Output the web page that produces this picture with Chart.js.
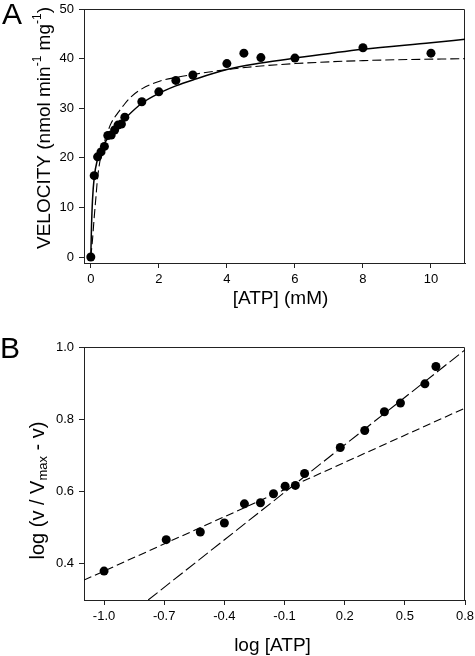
<!DOCTYPE html>
<html>
<head>
<meta charset="utf-8">
<script src="https://cdn.jsdelivr.net/npm/chart.js@4.4.1/dist/chart.umd.min.js"></script>
<style>
  body { margin: 0; background: #fff; }
  canvas { position: absolute; left: 0; }
  #chartA { top: 0; }
  #chartB { top: 330px; }
</style>
</head>
<body>
<canvas id="chartA" width="475" height="315"></canvas>
<canvas id="chartB" width="475" height="326"></canvas>
<script>
// Panel A: velocity vs [ATP]
const atp = [0, 0.1, 0.2, 0.3, 0.4, 0.5, 0.6, 0.7, 0.8, 0.9, 1.0, 1.5, 2, 2.5, 3, 4, 4.5, 5, 6, 8, 10];
const velocity = [0, 16.4, 20.2, 21.2, 22.3, 24.5, 24.6, 25.6, 26.6, 26.8, 28.2, 31.3, 33.3, 35.6, 36.7, 39.0, 41.1, 40.2, 40.1, 42.2, 41.1];

const solidFitX = [0, 0.02, 0.05, 0.1, 0.2, 0.3, 0.4, 0.5, 0.7, 1.0, 1.5, 2, 2.5, 3, 4, 5, 6, 8, 10, 11];
const solidFitY = [0, 6, 11.5, 16, 19.8, 21.6, 22.9, 24.0, 25.8, 27.9, 31.0, 33.0, 34.5, 35.7, 37.8, 39.1, 40.1, 41.9, 43.2, 43.9];

const dashFitX = [0, 0.05, 0.1, 0.15, 0.2, 0.3, 0.4, 0.5, 0.6, 0.8, 1.0, 1.2, 1.5, 2, 2.5, 3, 4, 5, 6, 8, 11];
const dashFitY = [0, 3.5, 8, 12, 16, 20.5, 23.2, 25.3, 27, 29.1, 30.9, 32.4, 33.9, 35.4, 36.2, 36.8, 37.8, 38.5, 39.0, 39.6, 40.0];

const xTicksA = [0, 2, 4, 6, 8, 10];
const yTicksA = [0, 10, 20, 30, 40, 50];

// Panel B: Hill plot
const logAtp = [-1.0, -0.69, -0.52, -0.40, -0.30, -0.22, -0.155, -0.097, -0.046, 0.0, 0.178, 0.30, 0.398, 0.478, 0.60, 0.655];
const logRatio = [0.380, 0.467, 0.488, 0.513, 0.566, 0.569, 0.594, 0.615, 0.617, 0.650, 0.722, 0.769, 0.821, 0.845, 0.898, 0.946];

const lowLineX = [-1.1, 0.8];
const lowLineY = [0.355, 0.831];
const highLineX = [-0.78, 0.8];
const highLineY = [0.30, 0.992];

const xTicksB = [-1.0, -0.7, -0.4, -0.1, 0.2, 0.5, 0.8];
const yTicksB = [0.4, 0.6, 0.8, 1.0];

const FONT = '"Liberation Sans", Arial, sans-serif';

function pts(xs, ys) {
  return xs.map((x, i) => ({ x: x, y: ys[i] }));
}

function axis(min, max, ticks, fmt, isY, bottomHeight) {
  return {
    type: 'linear',
    min: min,
    max: max,
    afterBuildTicks: s => { s.ticks = ticks.map(v => ({ value: v })); },
    afterFit: s => {
      if (isY) {
        s.width = 84;
        s.paddingTop = 0;
        s.paddingBottom = 0;
      } else {
        s.height = bottomHeight;
        s.paddingLeft = 0;
        s.paddingRight = 0;
      }
    },
    grid: { drawOnChartArea: false, drawTicks: true, tickLength: 5, color: '#222' },
    border: { display: true, color: '#222', width: 1 },
    ticks: {
      color: '#000',
      font: { family: FONT, size: 13 },
      padding: isY ? 5 : 4,
      autoSkip: false,
      maxRotation: 0,
      callback: fmt,
    },
  };
}

// top and right sides of the box
const frame = {
  id: 'frame',
  beforeDatasetsDraw(chart) {
    const { ctx, chartArea: a } = chart;
    ctx.save();
    ctx.strokeStyle = '#222';
    ctx.lineWidth = 1;
    ctx.beginPath();
    ctx.moveTo(Math.round(a.left), Math.round(a.top) + 0.5);
    ctx.lineTo(Math.round(a.right) - 0.5, Math.round(a.top) + 0.5);
    ctx.lineTo(Math.round(a.right) - 0.5, Math.round(a.bottom));
    ctx.stroke();
    ctx.restore();
  },
};

function drawRich(ctx, parts, cx, cy, size, rotate) {
  ctx.save();
  ctx.translate(cx, cy);
  if (rotate) ctx.rotate(-Math.PI / 2);
  ctx.fillStyle = '#000';
  ctx.textBaseline = 'middle';
  const fontFor = p => (p.sup || p.sub ? Math.round(size * 0.65) : size) + 'px ' + FONT;
  const widths = parts.map(p => { ctx.font = fontFor(p); return ctx.measureText(p.t).width; });
  let x = -widths.reduce((s, w) => s + w, 0) / 2;
  parts.forEach((p, i) => {
    ctx.font = fontFor(p);
    const dy = p.sup ? -size * 0.38 : p.sub ? size * 0.28 : 0;
    ctx.fillText(p.t, x, dy);
    x += widths[i];
  });
  ctx.restore();
}

function labels(items) {
  return {
    id: 'labels',
    afterDraw(chart) {
      const a = chart.chartArea;
      items.forEach(it => drawRich(chart.ctx, it.parts, it.x(a), it.y(a), it.size, it.rotate));
    },
  };
}

const dots = {
  showLine: false,
  pointRadius: 4.5,
  pointBackgroundColor: '#000',
  pointBorderWidth: 0,
  order: 0,
};

new Chart(document.getElementById('chartA'), {
  type: 'scatter',
  data: {
    datasets: [
      Object.assign({ data: pts(atp, velocity) }, dots),
      {
        data: pts(solidFitX, solidFitY),
        showLine: true,
        pointRadius: 0,
        borderColor: '#000',
        borderWidth: 1.5,
        cubicInterpolationMode: 'monotone',
        order: 1,
      },
      {
        data: pts(dashFitX, dashFitY),
        showLine: true,
        pointRadius: 0,
        borderColor: '#000',
        borderWidth: 1.1,
        borderDash: [9, 4],
        cubicInterpolationMode: 'monotone',
        order: 2,
      },
    ],
  },
  options: {
    responsive: false,
    animation: false,
    layout: { padding: { top: 9, right: 10, left: 0, bottom: 0 } },
    plugins: { legend: { display: false }, tooltip: { enabled: false } },
    scales: {
      x: axis(-0.2, 11, xTicksA, v => String(v), false, 52),
      y: axis(-1.2, 50, yTicksA, v => String(v), true),
    },
  },
  plugins: [frame, labels([
    { parts: [{ t: 'A' }], x: a => 12, y: a => 16, size: 30 },
    { parts: [{ t: '[ATP] (mM)' }], x: a => (a.left + a.right) / 2 + 6, y: a => a.bottom + 36, size: 19 },
    {
      parts: [{ t: 'VELOCITY (nmol min' }, { t: '-1', sup: true }, { t: ' mg' }, { t: '-1', sup: true }, { t: ')' }],
      x: a => a.left - 39, y: a => a.top + 119, size: 19, rotate: true,
    },
  ])],
});

new Chart(document.getElementById('chartB'), {
  type: 'scatter',
  data: {
    datasets: [
      Object.assign({ data: pts(logAtp, logRatio) }, dots),
      {
        data: pts(lowLineX, lowLineY),
        showLine: true,
        pointRadius: 0,
        borderColor: '#000',
        borderWidth: 1.1,
        borderDash: [8, 4],
        order: 1,
      },
      {
        data: pts(highLineX, highLineY),
        showLine: true,
        pointRadius: 0,
        borderColor: '#000',
        borderWidth: 1.1,
        borderDash: [12, 4],
        order: 2,
      },
    ],
  },
  options: {
    responsive: false,
    animation: false,
    layout: { padding: { top: 17, right: 10, left: 0, bottom: 0 } },
    plugins: { legend: { display: false }, tooltip: { enabled: false } },
    scales: {
      x: axis(-1.1, 0.8, xTicksB, v => v.toFixed(1), false, 56),
      y: axis(0.3, 1.0, yTicksB, v => v.toFixed(1), true),
    },
  },
  plugins: [frame, labels([
    { parts: [{ t: 'B' }], x: a => 10, y: a => 20, size: 30 },
    { parts: [{ t: 'log [ATP]' }], x: a => (a.left + a.right) / 2 - 2, y: a => a.bottom + 46, size: 19 },
    {
      parts: [{ t: 'log (v / V' }, { t: 'max', sub: true }, { t: ' - v)' }],
      x: a => a.left - 46, y: a => (a.top + a.bottom) / 2 + 17, size: 20, rotate: true,
    },
  ])],
});
</script>
</body>
</html>
